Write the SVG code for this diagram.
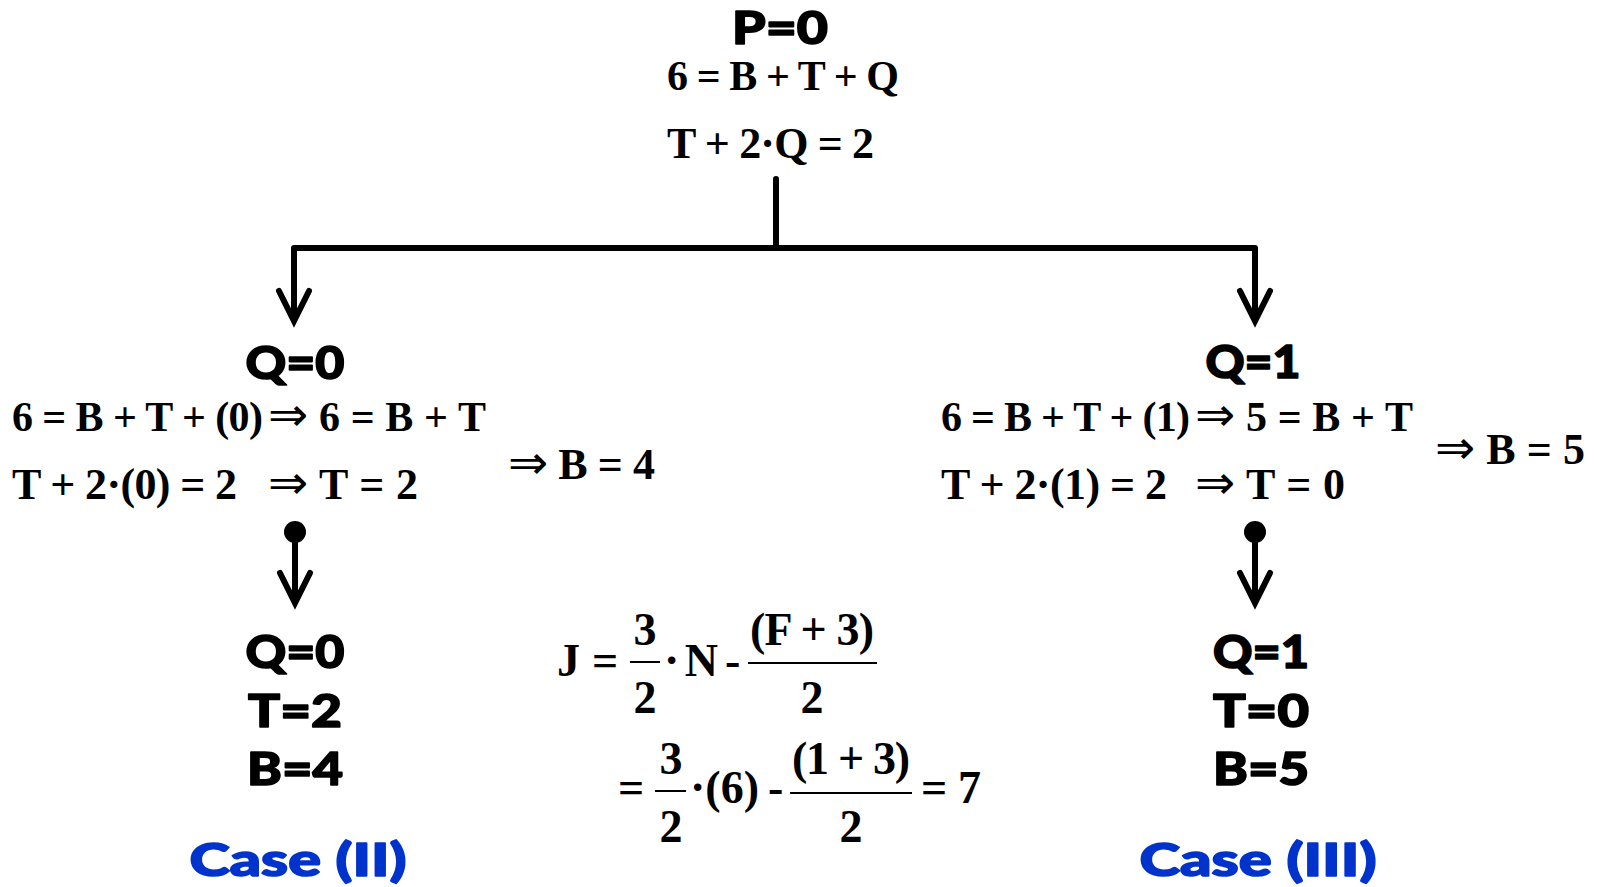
<svg xmlns="http://www.w3.org/2000/svg" width="1598" height="887" viewBox="0 0 1598 887">
<style>
.h{font-family:Lato,"Liberation Sans",sans-serif;font-weight:900;font-size:46px;text-anchor:middle;fill:#000;stroke:#000;stroke-width:1.6;stroke-linejoin:round}
.c{fill:#0033CC;stroke:#0033CC}
.m{font-family:"Liberation Serif",serif;font-weight:bold;font-size:44px;fill:#000}
.f{font-size:46px}
.s{font-size:42px}
.ar{font-family:"DejaVu Sans",sans-serif;font-weight:normal;font-size:48px}
.ln{stroke:#000;stroke-width:6;fill:none;stroke-linecap:round;stroke-linejoin:round}
.bar{stroke:#000;stroke-width:2;fill:none}
.mid{text-anchor:middle}
</style>
<defs>
<marker id="ah" markerUnits="userSpaceOnUse" orient="auto" markerWidth="40" markerHeight="40" refX="0" refY="0" overflow="visible">
<path d="M-27,-15 L3,0 L-27,15" fill="none" stroke="#000" stroke-width="6" stroke-linecap="round" stroke-linejoin="miter"/>
</marker>
<marker id="dot" markerUnits="userSpaceOnUse" orient="auto" markerWidth="30" markerHeight="30" refX="0" refY="0" overflow="visible">
<circle cx="0" cy="0" r="11" fill="#000"/>
</marker>
</defs>
<rect width="1598" height="887" fill="#fff"/>

<g id="connectors">
<path class="ln" d="M776,179 V248 H294 V318" marker-end="url(#ah)"/>
<path class="ln" d="M776,248 H1255 V318" marker-end="url(#ah)"/>
<path class="ln" d="M295,532 V600" marker-start="url(#dot)" marker-end="url(#ah)"/>
<path class="ln" d="M1255,532 V600" marker-start="url(#dot)" marker-end="url(#ah)"/>
</g>

<g id="root">
<text class="h" x="780" y="44" textLength="96" lengthAdjust="spacingAndGlyphs">P=0</text>
<text class="m s" x="667" y="90" textLength="232" xml:space="preserve">6 = B + T + Q</text>
<text class="m" x="667" y="158" textLength="207" xml:space="preserve">T + 2·Q = 2</text>
</g>

<g id="left">
<text class="h" x="295" y="379" textLength="99" lengthAdjust="spacingAndGlyphs">Q=0</text>
<text class="m s" x="12" y="431" textLength="251">6 = B + T + (0)</text>
<text class="m s" x="268" y="431" textLength="218"><tspan class="ar">⇒</tspan> 6 = B + T</text>
<text class="m" x="12" y="499" textLength="225">T + 2·(0) = 2</text>
<text class="m" x="268" y="499" textLength="150"><tspan class="ar">⇒</tspan> T = 2</text>
<text class="m" x="508" y="479" textLength="147"><tspan class="ar">⇒</tspan> B = 4</text>
</g>

<g id="right">
<text class="h" x="1253" y="378" textLength="95" lengthAdjust="spacingAndGlyphs">Q=1</text>
<text class="m s" x="941" y="431" textLength="249">6 = B + T + (1)</text>
<text class="m s" x="1195" y="431" textLength="218"><tspan class="ar">⇒</tspan> 5 = B + T</text>
<text class="m" x="941" y="499" textLength="226">T + 2·(1) = 2</text>
<text class="m" x="1195" y="499" textLength="150"><tspan class="ar">⇒</tspan> T = 0</text>
<text class="m" x="1435" y="464" textLength="150"><tspan class="ar">⇒</tspan> B = 5</text>
</g>

<g id="case2">
<text class="h" x="295" y="668" textLength="99" lengthAdjust="spacingAndGlyphs">Q=0</text>
<text class="h" x="295" y="727" textLength="94" lengthAdjust="spacingAndGlyphs">T=2</text>
<text class="h" x="295" y="785" textLength="96" lengthAdjust="spacingAndGlyphs">B=4</text>
<text class="h c" x="298" y="876" textLength="217" lengthAdjust="spacingAndGlyphs">Case (II)</text>
</g>

<g id="case3">
<text class="h" x="1261" y="668" textLength="96" lengthAdjust="spacingAndGlyphs">Q=1</text>
<text class="h" x="1261" y="727" textLength="96" lengthAdjust="spacingAndGlyphs">T=0</text>
<text class="h" x="1261" y="785" textLength="96" lengthAdjust="spacingAndGlyphs">B=5</text>
<text class="h c" x="1258" y="876" textLength="237" lengthAdjust="spacingAndGlyphs">Case (III)</text>
</g>

<g id="formula">
<text class="m f" x="557" y="676">J</text>
<text class="m f" x="592" y="676">=</text>
<text class="m f mid" x="645" y="645">3</text>
<line class="bar" x1="630" y1="662" x2="660" y2="662"/>
<text class="m f mid" x="645" y="713">2</text>
<text class="m f" x="664" y="676" textLength="54">·N</text>
<text class="m f" x="725" y="676">-</text>
<text class="m f" x="750" y="645" textLength="124">(F + 3)</text>
<line class="bar" x1="748" y1="663" x2="877" y2="663"/>
<text class="m f mid" x="812" y="713">2</text>

<text class="m f" x="618" y="803">=</text>
<text class="m f mid" x="671" y="774">3</text>
<line class="bar" x1="655" y1="791" x2="686" y2="791"/>
<text class="m f mid" x="671" y="842">2</text>
<text class="m f" x="690" y="803" textLength="69">·(6)</text>
<text class="m f" x="768" y="803">-</text>
<text class="m f" x="792" y="774" textLength="118">(1 + 3)</text>
<line class="bar" x1="790" y1="793" x2="912" y2="793"/>
<text class="m f mid" x="851" y="842">2</text>
<text class="m f" x="921" y="803" textLength="60">= 7</text>
</g>
</svg>
